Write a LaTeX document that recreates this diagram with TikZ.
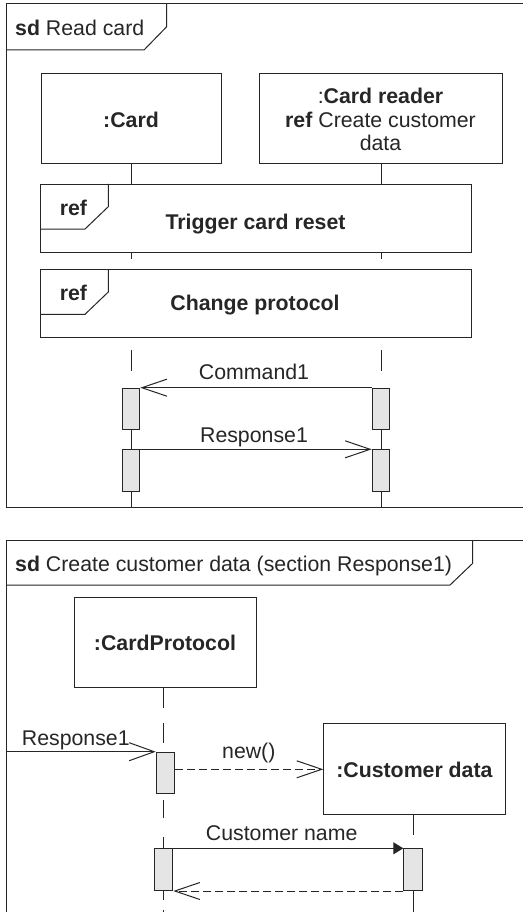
\documentclass[tikz,border=0pt]{standalone}
\usepackage{fontspec}
\setmainfont{Liberation Sans}
\usetikzlibrary{arrows.meta}
\definecolor{ink}{gray}{0.15}
\definecolor{actfill}{gray}{0.9}
\tikzset{
  ln/.style={line width=1pt, draw=ink},
  objbox/.style={draw=ink, line width=1pt, fill=white, inner sep=0pt, anchor=north west},
  actbox/.style={draw=ink, line width=1pt, fill=actfill, inner sep=0pt, anchor=north west, minimum width=17.6pt},
  txt/.style={font=\fontsize{21.3}{24}\selectfont, text=ink, inner sep=0pt, anchor=base},
  openarrow/.style={line width=1pt, draw=ink, -{Straight Barb[length=25pt,width=17pt,line width=1pt]}},
  fillarrow/.style={line width=1pt, draw=ink, -{Triangle[length=10pt,width=12pt]}},
  dashline/.style={dash pattern=on 8pt off 4pt}
}
\begin{document}
\begin{tikzpicture}[x=1pt,y=-1pt]
\useasboundingbox (0,0) rectangle (522,912);
\fill[white] (0,0) rectangle (522,912);

% ===== Frame 1: sd Read card =====
\draw[ln] (530,4) -- (6,4) -- (6,507) -- (530,507);
\draw[ln] (6,50) -- (144,50) -- (166.7,26.7) -- (166.7,4);
\node[txt, anchor=base west] (title1) at (15,36) {\textbf{sd} Read card};

% objects
\node[objbox, minimum width=180.3pt, minimum height=90.6pt] (card) at (40.7,72.7) {};
\node[txt] (cardlbl) at (131,127.3) {\textbf{:Card}};
\node[objbox, minimum width=242.4pt, minimum height=90.6pt] (reader) at (259.3,72.7) {};
\node[txt] (readerl1) at (380.5,103.3) {:\textbf{Card reader}};
\node[txt] (readerl2) at (380.5,127.8) {\textbf{ref} Create customer};
\node[txt] (readerl3) at (380.5,151) {data};

% lifelines (top)
\foreach \x in {131.5,381} {
  \draw[ln] (\x,163.3) -- (\x,184);
  \draw[ln] (\x,252) -- (\x,259.3);
  \draw[ln] (\x,350) -- (\x,370.7);
  \draw[ln] (\x,429) -- (\x,449.3);
  \draw[ln] (\x,491) -- (\x,507);
}

% ref frames
\node[objbox, minimum width=431pt, minimum height=68pt] (ref1) at (40,184) {};
\draw[ln] (40,229) -- (85,229) -- (108.3,206.7) -- (108.3,184);
\node[txt] (ref1tag) at (73.5,215) {\textbf{ref}};
\node[txt] (ref1lbl) at (255.5,229.3) {\textbf{Trigger card reset}};

\node[objbox, minimum width=431pt, minimum height=68pt] (ref2) at (40,269) {};
\draw[ln] (40,314.3) -- (85,314.3) -- (108.3,292) -- (108.3,269);
\node[txt] (ref2tag) at (73.5,300) {\textbf{ref}};
\node[txt] (ref2lbl) at (255,310.7) {\textbf{Change protocol}};

% activations (top)
\node[actbox, minimum height=41.3pt] (a1) at (121.7,387.7) {};
\node[actbox, minimum height=41.3pt] (b1) at (371.7,387.7) {};
\node[actbox, minimum height=41.7pt] (a2) at (121.7,449.3) {};
\node[actbox, minimum height=41.7pt] (b2) at (371.7,449.3) {};

\draw[openarrow] (b1.north west) -- (a1.north east);
\node[txt] (cmd1) at (254,379.3) {Command1};
\draw[openarrow] (a2.north east) -- (b2.north west);
\node[txt] (resp1) at (254,442.7) {Response1};

% ===== Frame 2: sd Create customer data =====
\draw[ln] (530,540) -- (6,540) -- (6,920);
\draw[ln] (6,585) -- (450,585) -- (472.7,563.3) -- (472.7,540);
\node[txt, anchor=base west] (title2) at (15,571.7) {\textbf{sd} Create customer data (section Response1)};

\node[objbox, minimum width=181.7pt, minimum height=90pt] (proto) at (74,596.7) {};
\node[txt] (protolbl) at (165,650.7) {\textbf{:CardProtocol}};

% left lifeline (bottom)
\draw[ln] (163.3,686.7) -- (163.3,708.3);
\draw[ln] (163.3,723.3) -- (163.3,743.3);
\draw[ln] (163.3,800) -- (163.3,818.3);
\draw[ln] (163.3,836.7) -- (163.3,848.3);
\draw[ln] (163.3,890) -- (163.3,900);
\draw[ln] (163.3,910) -- (163.3,920);

\node[actbox, minimum width=18.3pt, minimum height=41.6pt] (a3) at (155.7,751.7) {};
\coordinate (entry) at (6,751.7);
\draw[openarrow, -{Straight Barb[length=25pt,width=18pt,line width=1pt]}] (entry) -- (a3.north west);
\node[txt, anchor=base west] (resp1b) at (21.7,745) {Response1};

\node[objbox, minimum width=181.7pt, minimum height=91pt] (cust) at (323.3,723.3) {};
\node[txt] (custlbl) at (414.5,777.3) {\textbf{:Customer data}};
\draw[openarrow, dashline] (a3.east |- cust.west) -- (cust.west);
\node[txt] (newlbl) at (248.8,758) {new()};

% right lifeline (bottom)
\draw[ln] (413.3,814.3) -- (413.3,835);
\draw[ln] (413.3,890) -- (413.3,920);

\node[actbox, minimum width=18.3pt, minimum height=41.7pt] (a4) at (154,848.3) {};
\node[actbox, minimum width=18.3pt, minimum height=41.7pt] (b4) at (403.3,848.3) {};
\draw[fillarrow] (a4.north east) -- (b4.north west);
\node[txt] (custname) at (281.7,840) {Customer name};
\draw[openarrow, dashline] (b4.south west) -- (a4.south east);

\end{tikzpicture}
\end{document}
